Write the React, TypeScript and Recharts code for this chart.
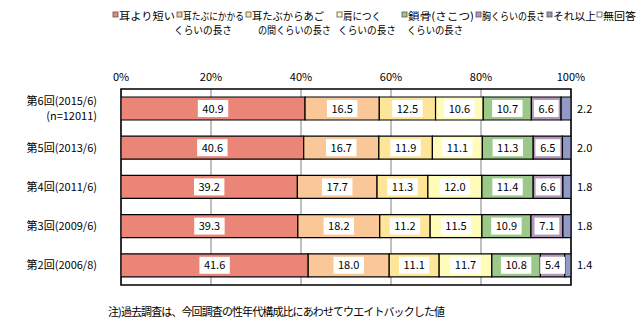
import { BarChart, Bar, XAxis, YAxis, CartesianGrid, LabelList, ReferenceArea } from 'recharts';

const rounds = ['第6回(2015/6)', '第5回(2013/6)', '第4回(2011/6)', '第3回(2009/6)', '第2回(2006/8)'];
const subLabels = ['(n=12011)', '', '', '', ''];

const shorterThanEar = [40.9, 40.6, 39.2, 39.3, 41.6];
const earlobe = [16.5, 16.7, 17.7, 18.2, 18.0];
const earlobeToJaw = [12.5, 11.9, 11.3, 11.2, 11.1];
const shoulder = [10.6, 11.1, 12.0, 11.5, 11.7];
const collarbone = [10.7, 11.3, 11.4, 10.9, 10.8];
const chest = [6.6, 6.5, 6.6, 7.1, 5.4];
const longer = [2.2, 2.0, 1.8, 1.8, 1.4];

const xTicks = [0, 20, 40, 60, 80, 100];

const series = [
  { key: 'shorterThanEar', color: '#EB8577', lines: ['耳より短い'] },
  { key: 'earlobe', color: '#FAC898', lines: ['耳たぶにかかる', 'くらいの長さ'] },
  { key: 'earlobeToJaw', color: '#FEE699', lines: ['耳たぶからあご', 'の間くらいの長さ'] },
  { key: 'shoulder', color: '#FFFBB9', lines: ['肩につく', 'くらいの長さ'] },
  { key: 'collarbone', color: '#9CC98A', lines: ['鎖骨(さこつ)', 'くらいの長さ'] },
  { key: 'chest', color: '#B496BD', lines: ['胸くらいの長さ'] },
  { key: 'longer', color: '#9199C6', lines: ['それ以上'] },
  { key: 'noAnswer', color: '#FFFFFF', lines: ['無回答'] },
];

// legend placement: square x, first-line width, second-line x and width
const legendPos = [
  { sq: 113, w1: 56, l2: 0, w2: 0 },
  { sq: 177, w1: 61, l2: 174, w2: 58 },
  { sq: 246, w1: 72, l2: 258, w2: 73 },
  { sq: 337, w1: 38, l2: 338, w2: 58 },
  { sq: 402, w1: 66, l2: 407, w2: 56 },
  { sq: 476, w1: 63, l2: 0, w2: 0 },
  { sq: 547, w1: 43, l2: 0, w2: 0 },
  { sq: 597, w1: 33, l2: 0, w2: 0 },
];

const data = rounds.map((name, i) => ({
  name,
  sub: subLabels[i],
  shorterThanEar: shorterThanEar[i],
  earlobe: earlobe[i],
  earlobeToJaw: earlobeToJaw[i],
  shoulder: shoulder[i],
  collarbone: collarbone[i],
  chest: chest[i],
  longer: longer[i],
}));

const FONT = '"Noto Sans CJK JP", "Noto Sans", sans-serif';

const BoxLabel = (props: any) => {
  const { x, y, width, height, value } = props;
  const txt = Number(value).toFixed(1);
  const w = txt.length * 5.6 + 8;
  const cx = x + width / 2;
  const cy = y + height / 2;
  return (
    <g>
      <rect x={cx - w / 2} y={cy - 8.5} width={w} height={17} fill="#fff" />
      <text x={cx} y={cy + 4} textAnchor="middle" fontSize={11} fontFamily={FONT} fill="#000">
        {txt}
      </text>
    </g>
  );
};

const OutLabel = (props: any) => {
  const { x, y, width, height, value } = props;
  return (
    <text x={x + width + 6} y={y + height / 2 + 4} fontSize={11} fontFamily={FONT} fill="#000">
      {Number(value).toFixed(1)}
    </text>
  );
};

const CatTick = (props: any) => {
  const { y, payload, index } = props;
  const sub = subLabels[index];
  return (
    <g>
      <text x={97} y={sub ? y - 4 : y + 4} textAnchor="end" fontSize={11} fontFamily={FONT} fill="#000">
        {payload.value}
      </text>
      {sub && (
        <text x={97} y={y + 11} textAnchor="end" fontSize={11} fontFamily={FONT} fill="#000">
          {sub}
        </text>
      )}
    </g>
  );
};

export default function App() {
  return (
    <div style={{ position: 'absolute', left: 0, top: 0, width: 642, height: 321, background: '#fff', fontFamily: FONT }}>
      <svg width={642} height={40} style={{ position: 'absolute', left: 0, top: 0 }}>
        {series.map((s, i) => (
          <g key={s.key}>
            <rect x={legendPos[i].sq} y={12} width={5} height={5} fill={s.color} stroke="#555" strokeWidth={0.8} />
            <text
              x={legendPos[i].sq + 6}
              y={19.5}
              fontSize={10.5}
              fontFamily={FONT}
              fill="#000"
              textLength={legendPos[i].w1}
              lengthAdjust="spacingAndGlyphs"
            >
              {s.lines[0]}
            </text>
            {s.lines[1] && (
              <text
                x={legendPos[i].l2}
                y={34}
                fontSize={10.5}
                fontFamily={FONT}
                fill="#000"
                textLength={legendPos[i].w2}
                lengthAdjust="spacingAndGlyphs"
              >
                {s.lines[1]}
              </text>
            )}
          </g>
        ))}
      </svg>
      <div style={{ position: 'absolute', left: 0, top: 0 }}>
        <BarChart
          width={642}
          height={321}
          data={data}
          layout="vertical"
          margin={{ top: 69, right: 71, bottom: 36, left: 0 }}
          barSize={23}
        >
          <CartesianGrid horizontal={false} stroke="#808080" strokeWidth={1} />
          <XAxis
            type="number"
            orientation="top"
            domain={[0, 100]}
            ticks={xTicks}
            allowDataOverflow
            height={20}
            axisLine={false}
            tickLine={false}
            tickFormatter={(v: number) => `${v}%`}
            tick={{ fontSize: 11, fill: '#000', fontFamily: FONT }}
          />
          <YAxis type="category" dataKey="name" width={121} axisLine={false} tickLine={false} tick={<CatTick />} />
          <ReferenceArea x1={0} x2={100} fill="none" stroke="#000" strokeWidth={1.5} ifOverflow="visible" />
          {series.slice(0, 7).map((s) => (
            <Bar
              key={s.key}
              dataKey={s.key}
              stackId="a"
              fill={s.color}
              stroke="#000"
              strokeWidth={1.2}
              isAnimationActive={false}
            >
              <LabelList dataKey={s.key} content={s.key === 'longer' ? <OutLabel /> : <BoxLabel />} />
            </Bar>
          ))}
        </BarChart>
      </div>
      <div
        style={{
          position: 'absolute',
          left: 108,
          top: 303,
          fontSize: 11,
          letterSpacing: '-0.9px',
          whiteSpace: 'nowrap',
          color: '#000',
        }}
      >
        注)過去調査は、今回調査の性年代構成比にあわせてウエイトバックした値
      </div>
    </div>
  );
}
